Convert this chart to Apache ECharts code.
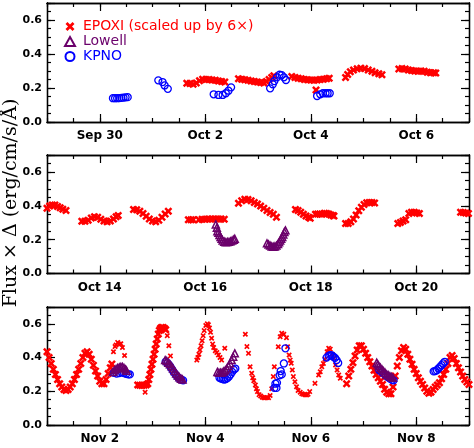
<!DOCTYPE html>
<html>
<head>
<meta charset="utf-8">
<script src="https://cdn.jsdelivr.net/npm/echarts@6/dist/echarts.min.js"></script>
<style>
  html, body { margin: 0; padding: 0; background: #fff; }
  #chart { width: 474px; height: 448px; }
</style>
</head>
<body>
<div id="chart"></div>
<script>
// x = days since the first labelled date of each panel, y = flux x delta
var labels1 = ['Sep 30', 'Oct 2', 'Oct 4', 'Oct 6'];
var labels2 = ['Oct 14', 'Oct 16', 'Oct 18', 'Oct 20'];
var labels3 = ['Nov 2', 'Nov 4', 'Nov 6', 'Nov 8'];
var yLabels = ['0.0', '0.2', '0.4', '0.6'];

// panel 1 : Sep 29 - Oct 7
var epoxi1 = [
  [1.65,0.228],[1.71,0.226],[1.77,0.222],[1.83,0.230],[1.89,0.243],[1.95,0.251],[2.01,0.250],[2.07,0.250],[2.13,0.247],[2.19,0.245],[2.25,0.241],[2.31,0.238],[2.37,0.235],
  [2.63,0.255],[2.69,0.252],[2.75,0.248],[2.81,0.245],[2.87,0.241],[2.93,0.238],[2.99,0.235],[3.05,0.232],[3.11,0.230],[3.16,0.238],[3.21,0.250],[3.26,0.262],[3.30,0.272],
  [3.64,0.268],[3.70,0.262],[3.76,0.258],[3.82,0.254],[3.88,0.250],[3.94,0.248],[4.00,0.247],[4.06,0.246],[4.12,0.247],[4.18,0.250],[4.24,0.252],[4.30,0.255],[4.35,0.257],
  [4.10,0.188],
  [4.66,0.262],[4.70,0.280],[4.75,0.295],[4.81,0.306],[4.88,0.313],[4.95,0.316],[5.02,0.314],[5.09,0.306],[5.16,0.298],[5.22,0.290],[5.29,0.284],[5.35,0.278],
  [5.67,0.312],[5.73,0.314],[5.79,0.312],[5.85,0.306],[5.91,0.303],[5.97,0.300],[6.03,0.298],[6.09,0.300],[6.15,0.298],[6.21,0.292],[6.27,0.290],[6.33,0.290],[6.37,0.288]
];
var kpno1 = [
  [0.25,0.140],[0.29,0.140],[0.33,0.140],[0.37,0.141],[0.41,0.142],[0.45,0.143],[0.49,0.145],[0.53,0.146],
  [1.11,0.245],[1.19,0.235],[1.23,0.215],[1.29,0.195],
  [2.16,0.163],[2.25,0.159],[2.33,0.159],[2.39,0.169],[2.44,0.184],[2.49,0.204],
  [3.23,0.198],[3.28,0.222],[3.31,0.241],[3.36,0.263],[3.41,0.278],[3.45,0.276],[3.49,0.263],[3.53,0.247],
  [4.12,0.153],[4.18,0.163],[4.23,0.169],[4.28,0.169],[4.32,0.169],[4.36,0.169]
];

// panel 2 : Oct 13 - Oct 21
var epoxi2 = [
  [-1.00,0.385],[-0.95,0.398],[-0.90,0.405],[-0.85,0.404],[-0.80,0.396],[-0.75,0.388],[-0.70,0.380],[-0.64,0.372],
  [-0.34,0.308],[-0.28,0.308],[-0.22,0.315],[-0.16,0.328],[-0.10,0.335],[-0.04,0.332],[0.02,0.320],[0.08,0.310],[0.14,0.305],[0.20,0.310],[0.26,0.322],[0.31,0.335],[0.35,0.342],
  [0.64,0.378],[0.70,0.376],[0.76,0.368],[0.82,0.355],[0.88,0.338],[0.94,0.322],[1.00,0.310],[1.06,0.306],[1.12,0.315],[1.18,0.332],[1.24,0.352],[1.30,0.368],
  [1.68,0.318],[1.73,0.318],[1.77,0.317],[1.88,0.318],[1.94,0.320],[2.00,0.320],[2.06,0.322],[2.12,0.322],[2.18,0.322],[2.24,0.322],[2.30,0.322],[2.36,0.320],
  [2.63,0.415],[2.69,0.430],[2.75,0.438],[2.81,0.437],[2.87,0.430],[2.93,0.420],[2.99,0.410],[3.05,0.398],[3.11,0.385],[3.17,0.372],[3.23,0.360],[3.29,0.350],[3.35,0.332],
  [3.71,0.378],[3.76,0.372],[3.81,0.362],[3.86,0.350],[3.91,0.340],[3.96,0.332],[3.99,0.327],
  [4.09,0.350],[4.13,0.352],[4.17,0.352],[4.21,0.350],
  [4.26,0.356],[4.30,0.355],[4.34,0.352],[4.38,0.346],[4.42,0.342],[4.44,0.340],
  [4.66,0.296],[4.71,0.296],[4.76,0.305],[4.81,0.322],[4.86,0.345],[4.91,0.370],[4.96,0.392],[5.01,0.408],[5.06,0.418],[5.11,0.420],[5.16,0.420],[5.21,0.416],
  [5.65,0.296],[5.70,0.302],[5.75,0.310],[5.80,0.318],[5.86,0.355],[5.91,0.362],[5.96,0.362],[6.01,0.358],[6.06,0.355],
  [6.84,0.362],[6.89,0.360],[6.94,0.357],[6.99,0.355]
];
var lowell2 = [
  [2.20,0.290],[2.22,0.270],[2.23,0.250],[2.25,0.240],[2.27,0.228],[2.29,0.215],[2.31,0.205],[2.33,0.195],[2.36,0.188],[2.39,0.185],[2.42,0.186],[2.45,0.187],[2.48,0.190],[2.51,0.195],[2.54,0.200],[2.56,0.205],
  [3.17,0.178],[3.20,0.172],[3.23,0.165],[3.26,0.160],[3.29,0.158],[3.32,0.160],[3.35,0.165],[3.38,0.175],[3.40,0.185],[3.42,0.195],[3.44,0.205],[3.46,0.215],[3.48,0.230],[3.50,0.245],[3.52,0.255]
];

// panel 3 : Nov 1 - Nov 9, dense EPOXI runs and the sparse ones
var epoxi3 = [
  [-1.00,0.435],[-0.96,0.400],[-0.92,0.365],[-0.88,0.330],[-0.84,0.300],[-0.80,0.270],[-0.76,0.245],[-0.72,0.225],[-0.68,0.210],[-0.64,0.205],[-0.60,0.210],[-0.56,0.225],[-0.52,0.245],[-0.48,0.270],[-0.44,0.300],[-0.40,0.330],[-0.36,0.365],[-0.32,0.400],[-0.28,0.425],[-0.24,0.435],[-0.20,0.420],[-0.16,0.390],[-0.12,0.355],[-0.08,0.320],[-0.04,0.290],[0.00,0.260],[0.04,0.245],[0.08,0.245],[0.12,0.270],[0.16,0.305],[0.20,0.340],[0.23,0.362],
  [0.72,0.238],[0.76,0.236],[0.80,0.235],[0.84,0.236],[0.88,0.238],[0.91,0.245],[0.93,0.270],[0.95,0.300],[0.97,0.330],[0.99,0.360],[1.01,0.390],[1.03,0.420],[1.05,0.450],[1.07,0.480],[1.09,0.510],[1.11,0.540],[1.13,0.560],[1.15,0.572],[1.17,0.578],[1.20,0.578],[1.23,0.572],[1.25,0.565],
  [4.68,0.245],[4.72,0.290],[4.76,0.330],[4.80,0.370],[4.84,0.410],[4.88,0.445],[4.92,0.470],[4.96,0.470],[5.00,0.450],[5.04,0.425],[5.08,0.400],[5.12,0.375],[5.16,0.350],[5.20,0.325],[5.24,0.300],[5.28,0.280],[5.32,0.260],[5.36,0.240],[5.40,0.212],[5.44,0.195],[5.48,0.185],[5.52,0.185],[5.56,0.225],[5.60,0.290],[5.64,0.350],[5.68,0.400],[5.72,0.440],[5.76,0.460],[5.80,0.450],[5.84,0.420],[5.88,0.390],[5.92,0.360],[5.96,0.330],[6.00,0.305],[6.04,0.280],[6.08,0.260],[6.12,0.240],[6.16,0.220],[6.20,0.200],[6.24,0.188],[6.28,0.195],[6.32,0.210],[6.36,0.225],[6.40,0.238],[6.44,0.250],[6.48,0.275],[6.52,0.300],[6.56,0.330],[6.60,0.365],[6.64,0.400],[6.68,0.412],[6.72,0.395],[6.76,0.365],[6.80,0.340],[6.84,0.315],[6.88,0.290],[6.92,0.270],[6.96,0.255],[7.00,0.240]
];
var epoxi3Sparse = [
  [0.26,0.435],[0.29,0.465],[0.31,0.475],[0.34,0.490],[0.37,0.480],[0.40,0.482],[0.43,0.460],[0.47,0.412],
  [0.86,0.195],
  [1.28,0.530],[1.31,0.470],[1.34,0.410],
  [1.84,0.385],[1.86,0.400],[1.88,0.420],[1.90,0.445],[1.92,0.470],[1.94,0.500],[1.96,0.530],[1.98,0.560],[2.01,0.590],[2.04,0.600],[2.06,0.595],[2.08,0.575],[2.10,0.550],[2.12,0.515],[2.14,0.480],[2.16,0.460],[2.19,0.440],[2.22,0.430],[2.25,0.415],[2.28,0.400],[2.31,0.385],[2.37,0.455],
  [2.76,0.538],[2.79,0.465],[2.82,0.425],[2.85,0.346],[2.88,0.307],[2.90,0.280],[2.92,0.262],[2.95,0.237],[2.97,0.215],[2.99,0.198],[3.02,0.180],[3.05,0.172],[3.08,0.165],[3.11,0.162],[3.14,0.162],[3.17,0.163],[3.20,0.162],[3.23,0.175],[3.26,0.215],[3.29,0.287],[3.31,0.346],
  [3.385,0.464],[3.42,0.524],[3.45,0.544],[3.49,0.538],[3.54,0.518],[3.56,0.464],[3.59,0.415],[3.61,0.385],[3.63,0.366],[3.65,0.326],[3.67,0.287],[3.70,0.257],[3.73,0.227],[3.76,0.205],[3.80,0.194],[3.83,0.185],[3.86,0.182],[3.89,0.180],[3.92,0.178],[3.95,0.182],[3.98,0.198],
  [4.08,0.247],[4.15,0.297],[4.18,0.316],[4.21,0.346],[4.24,0.365],[4.27,0.390],[4.31,0.435],[4.34,0.455],[4.37,0.450],[4.41,0.420],[4.44,0.396],[4.47,0.356],[4.50,0.326],[4.53,0.297],[4.56,0.277]
];
var kpno3 = [
  [0.27,0.310],[0.32,0.305],[0.37,0.308],[0.42,0.312],[0.46,0.308],[0.50,0.303],[0.54,0.300],[0.57,0.300],
  [1.25,0.375],[1.28,0.368],[1.31,0.358],[1.34,0.345],[1.37,0.330],[1.40,0.315],[1.43,0.302],[1.46,0.290],[1.49,0.280],[1.52,0.273],[1.55,0.268],[1.58,0.265],
  [2.27,0.280],[2.30,0.275],[2.33,0.272],[2.36,0.270],[2.39,0.272],[2.42,0.278],[2.45,0.288],[2.48,0.300],[2.51,0.315],[2.54,0.328],[2.57,0.335],
  [3.31,0.220],[3.35,0.220],[3.33,0.245],[3.36,0.250],[3.41,0.295],[3.45,0.300],[3.43,0.320],[3.49,0.365],[3.52,0.455],
  [4.30,0.400],[4.34,0.410],[4.37,0.415],[4.40,0.413],[4.43,0.405],[4.46,0.398],[4.49,0.385],[4.52,0.368],
  [5.30,0.325],[5.34,0.315],[5.38,0.305],[5.42,0.295],[5.46,0.285],[5.50,0.275],[5.54,0.268],[5.57,0.265],
  [6.33,0.318],[6.36,0.320],[6.39,0.325],[6.42,0.335],[6.45,0.345],[6.48,0.355],[6.51,0.365],[6.54,0.375]
];
var lowell3 = [
  [0.25,0.315],[0.28,0.325],[0.31,0.332],[0.34,0.338],[0.37,0.342],[0.40,0.345],[0.43,0.345],[0.46,0.338],[0.49,0.330],[0.51,0.322],
  [1.24,0.385],[1.27,0.380],[1.30,0.370],[1.33,0.360],[1.36,0.348],[1.39,0.335],[1.42,0.320],[1.45,0.305],[1.48,0.293],[1.51,0.283],[1.54,0.275],[1.57,0.270],
  [2.23,0.315],[2.26,0.310],[2.29,0.310],[2.32,0.312],[2.35,0.318],[2.38,0.325],[2.41,0.335],[2.44,0.350],[2.47,0.365],[2.50,0.385],[2.53,0.405],[2.56,0.425],
  [5.25,0.370],[5.27,0.360],[5.29,0.350],[5.32,0.340],[5.35,0.330],[5.38,0.320],[5.41,0.310],[5.44,0.300],[5.47,0.295],[5.50,0.290],[5.53,0.285],[5.56,0.280]
];

var RED = '#ff0000', PURPLE = '#6b006b', BLUE = '#0000ff';
var NAME_E = 'EPOXI (scaled up by 6×)', NAME_L = 'Lowell', NAME_K = 'KPNO';
// filled "x" marker, heavier arms so dense runs merge into a band
var XSYM = 'path://M0,2.2L2.2,0L5,2.8L7.8,0L10,2.2L7.2,5L10,7.8L7.8,10L5,7.2L2.2,10L0,7.8L2.8,5Z';

var grids = [
  {left: 47, top: 3, width: 422, height: 119},
  {left: 47, top: 155, width: 422, height: 118.5},
  {left: 47, top: 307, width: 422, height: 118}
];

var axisLine = {onZero: false, lineStyle: {color: '#000', width: 1.3}};
var tickStyle = {color: '#000', width: 1.2};

// 4 x axes per grid: bottom minor (data axis), bottom major, top minor, top major
function makeX(g, labels) {
  var res = [];
  ['bottom', 'top'].forEach(function (pos) {
    res.push({
      gridIndex: g, type: 'value', position: pos, min: -1, max: 7, interval: 0.5,
      axisLine: axisLine, splitLine: {show: false},
      axisTick: {inside: true, length: 4, lineStyle: tickStyle},
      axisLabel: {show: false}
    });
    res.push({
      gridIndex: g, type: 'value', position: pos, min: -1, max: 7, interval: 0.5,
      axisLine: axisLine, splitLine: {show: false},
      axisTick: {inside: true, length: 8, lineStyle: tickStyle, customValues: [0, 2, 4, 6]},
      axisLabel: {
        show: pos === 'bottom', customValues: [0, 2, 4, 6], margin: 8,
        color: '#000', fontFamily: 'DejaVu Sans', fontWeight: 'bold', fontSize: 12,
        formatter: function (v) { return labels[Math.round(v / 2)] || ''; }
      }
    });
  });
  return res;
}

function makeY(g) {
  var res = [];
  ['left', 'right'].forEach(function (pos) {
    res.push({
      gridIndex: g, type: 'value', position: pos, min: 0, max: 0.7, interval: 0.05,
      axisLine: axisLine, splitLine: {show: false},
      axisTick: {inside: true, length: 4, lineStyle: tickStyle},
      axisLabel: {show: false}
    });
    res.push({
      gridIndex: g, type: 'value', position: pos, min: 0, max: 0.7, interval: 0.2,
      axisLine: axisLine, splitLine: {show: false},
      axisTick: {inside: true, length: 8, lineStyle: tickStyle},
      axisLabel: {
        show: pos === 'left', margin: 5,
        color: '#000', fontFamily: 'DejaVu Sans', fontWeight: 'bold', fontSize: 11,
        formatter: function (v) { return v > 0.65 ? '' : yLabels[Math.round(v / 0.2)]; }
      }
    });
  });
  return res;
}

function scat(name, data, g, kind, size) {
  var s = {
    name: name, type: 'scatter', data: data,
    xAxisIndex: g * 4, yAxisIndex: g * 4,
    symbolSize: size, silent: true
  };
  if (kind === 'x') {
    s.symbol = XSYM;
    s.itemStyle = {color: RED, opacity: 1};
    s.z = 2;
  } else if (kind === 'tri') {
    s.symbol = 'triangle';
    s.itemStyle = {color: 'rgba(0,0,0,0)', borderColor: PURPLE, borderWidth: 1.5, opacity: 1};
    s.z = 4;
  } else {
    s.symbol = 'circle';
    s.itemStyle = {color: 'rgba(0,0,0,0)', borderColor: BLUE, borderWidth: 1.3, opacity: 1};
    s.z = 3;
  }
  return s;
}

var xAxes = makeX(0, labels1).concat(makeX(1, labels2), makeX(2, labels3));
var yAxes = makeY(0).concat(makeY(1), makeY(2));

var chart = echarts.init(document.getElementById('chart'));
var option = {
  animation: false,
  backgroundColor: '#fff',
  grid: grids,
  xAxis: xAxes,
  yAxis: yAxes,
  legend: {
    orient: 'vertical', left: 59, top: 14,
    itemWidth: 10, itemHeight: 9, itemGap: 0,
    selectedMode: false,
    textStyle: {fontFamily: 'DejaVu Sans', fontSize: 14, lineHeight: 15, padding: [0, 0, 0, 3]},
    data: [
      {name: NAME_E, textStyle: {color: RED}},
      {name: NAME_L, textStyle: {color: PURPLE}},
      {name: NAME_K, textStyle: {color: BLUE}}
    ]
  },
  graphic: [{
    type: 'text', x: 11, y: 203, rotation: Math.PI / 2,
    style: {
      text: 'Flux × Δ (erg/cm/s/Å)', fill: '#000',
      font: '19px "DejaVu Serif"', align: 'center', verticalAlign: 'middle'
    }
  }],
  series: [
    scat(NAME_E, epoxi1, 0, 'x', 8),
    scat(NAME_L, [], 0, 'tri', 8),
    scat(NAME_K, kpno1, 0, 'o', 7),
    scat(NAME_E, epoxi2, 1, 'x', 8),
    scat(NAME_L, lowell2, 1, 'tri', 7),
    scat(NAME_E, epoxi3, 2, 'x', 8),
    scat(NAME_E, epoxi3Sparse, 2, 'x', 5.5),
    scat(NAME_K, kpno3, 2, 'o', 7),
    scat(NAME_L, lowell3, 2, 'tri', 7)
  ]
};
chart.setOption(option);
</script>
</body>
</html>
